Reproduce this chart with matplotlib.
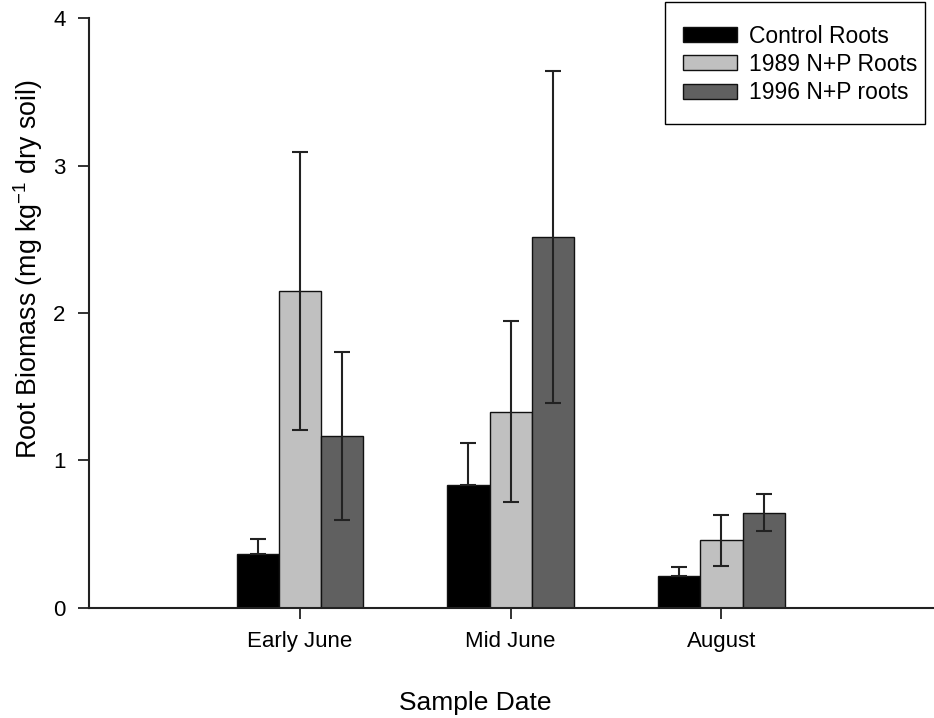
import numpy as np
import matplotlib
matplotlib.use("Agg")
import matplotlib.pyplot as plt
from matplotlib.patches import Rectangle

plt.rcParams['font.family'] = ['Liberation Sans', 'DejaVu Sans']
plt.rcParams['mathtext.fontset'] = 'custom'
plt.rcParams['mathtext.rm'] = 'Liberation Sans'
plt.rcParams['mathtext.default'] = 'regular'

categories = ["Early June", "Mid June", "August"]
series_names = ["Control Roots", "1989 N+P Roots", "1996 N+P roots"]
control = [0.366, 0.832, 0.217]
control_err = [0.10, 0.283, 0.059]
np1989 = [2.149, 1.33, 0.457]
np1989_err = [0.943, 0.614, 0.171]
np1996 = [1.167, 2.515, 0.645]
np1996_err = [0.57, 1.125, 0.127]
colors = ["#000000", "#c0c0c0", "#606060"]

W, H = 934, 718
fig = plt.figure(figsize=(W/100, H/100), dpi=100)
ax = fig.add_axes([89/W, (H-607.7)/H, (W-89)/W, (607.7-18.3)/H])

x = np.arange(1, len(categories) + 1)
w = 0.2
vals = [control, np1989, np1996]
errs = [control_err, np1989_err, np1996_err]
handles = []
for i, (v, e) in enumerate(zip(vals, errs)):
    b = ax.bar(x + (i - 1) * w, v, width=w, color=colors[i], edgecolor="#111111",
               linewidth=1.0, label=series_names[i], zorder=2)
    handles.append(b)
    if i == 0:
        yerr = [np.zeros(len(e)), e]   # lower half hidden by the black bar
    else:
        yerr = e
    ax.errorbar(x + (i - 1) * w, v, yerr=yerr, fmt='none', ecolor="#222222",
                elinewidth=1.5, capsize=6, capthick=1.5, zorder=3)

ax.set_xlim(0, 4.008)
ax.set_ylim(0, 4)
ax.set_yticks([0, 1, 2, 3, 4])
ax.set_xticks(x)
ax.set_xticklabels(categories)
for s in ['top', 'right']:
    ax.spines[s].set_visible(False)
for s in ['left', 'bottom']:
    ax.spines[s].set_linewidth(1.5)
    ax.spines[s].set_color('#222222')
ax.tick_params(axis='y', direction='out', length=8, width=1.3, pad=9, labelsize=16, color='#222222')
ax.tick_params(axis='x', direction='out', length=8, width=1.3, pad=9, labelsize=16, color='#222222')

ax.set_xlabel("Sample Date", fontsize=19)
ax.xaxis.set_label_coords(0.457, -0.142)
ax.set_ylabel("Root Biomass (mg kg$^{-1}$ dry soil)", fontsize=19.3)
ax.yaxis.set_label_coords(-0.052, 0.575)

# legend frame drawn separately (asymmetric padding as in the reference)
frame = Rectangle((665/W, 1 - 124/H), (925-665)/W, (124-2)/H,
                  transform=fig.transFigure, facecolor='white',
                  edgecolor='black', linewidth=1.0, zorder=5)
fig.patches.append(frame)
leg = fig.legend(handles, series_names, loc='upper left', bbox_to_anchor=(683/W, 1 - 25/H),
                 bbox_transform=fig.transFigure, fontsize=16.5, frameon=False,
                 handlelength=2.35, handleheight=0.63, handletextpad=0.55,
                 labelspacing=0.22, borderpad=0, borderaxespad=0)
leg.set_zorder(6)

fig.savefig("out.png", dpi=100)
